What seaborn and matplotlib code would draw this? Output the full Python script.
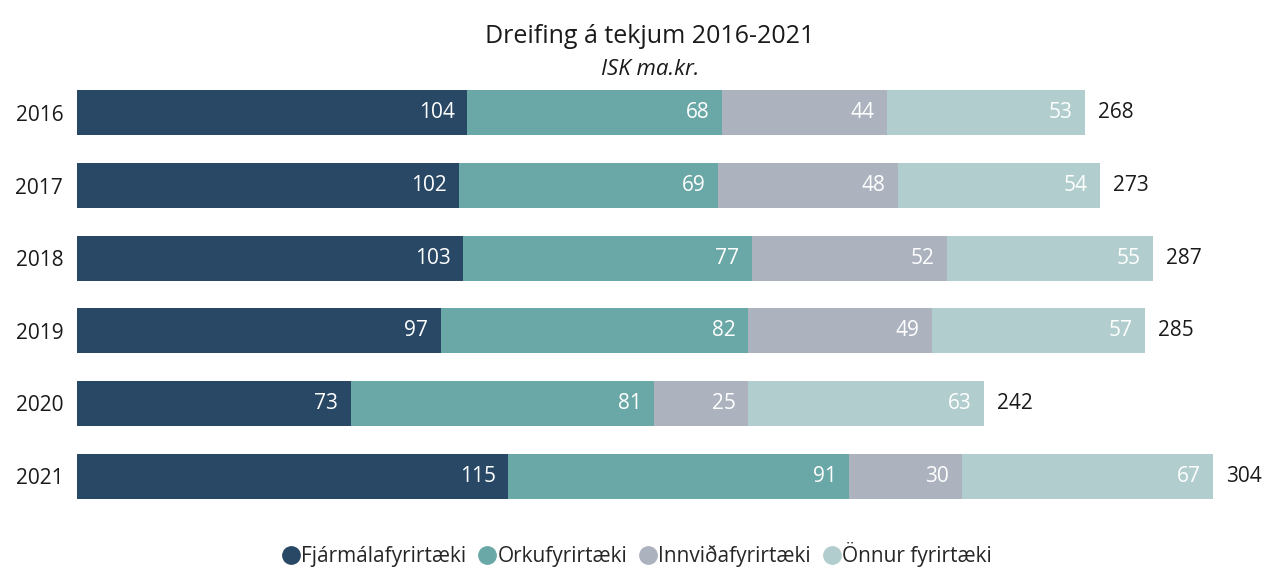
import numpy as np
import pandas as pd
import matplotlib
matplotlib.use("Agg")
import matplotlib.pyplot as plt
from matplotlib.lines import Line2D
import seaborn as sns

years = ["2016", "2017", "2018", "2019", "2020", "2021"]
categories = ["Fjármálafyrirtæki", "Orkufyrirtæki", "Innviðafyrirtæki", "Önnur fyrirtæki"]
fjarmala = [104, 102, 103, 97, 73, 115]
orku = [68, 69, 77, 82, 81, 91]
innvida = [44, 48, 52, 49, 25, 30]
onnur = [53, 54, 55, 57, 63, 67]
totals = [268, 273, 287, 285, 242, 304]

colors = ["#284866", "#6aa8a7", "#acb3bf", "#b1cdcd"]

sns.set_theme(style="white")
plt.rcParams["font.family"] = ["Open Sans", "DejaVu Sans"]

df = pd.DataFrame({
    "year": years,
    categories[0]: fjarmala,
    categories[1]: orku,
    categories[2]: innvida,
    categories[3]: onnur,
})
cum = df[categories].cumsum(axis=1)

fig = plt.figure(figsize=(12.67, 5.67), dpi=100)
ax = fig.add_axes([0.0608, 0.0963, 0.926, 0.7687])

# draw cumulative bars from the outermost segment inwards so they stack
for i in range(len(categories) - 1, -1, -1):
    sns.barplot(x=cum[categories[i]], y=df["year"], color=colors[i],
                orient="h", width=0.62, linewidth=0, saturation=1, ax=ax)

fs = 15
for r in range(len(years)):
    for i, cat in enumerate(categories):
        right = cum.loc[r, cat]
        ax.text(right - 3.3, r, str(df.loc[r, cat]), ha="right", va="center",
                color="white", fontsize=fs)
    ax.text(cum.loc[r, categories[-1]] + 3.5, r, str(totals[r]), ha="left",
            va="center", color="#1a1a1a", fontsize=fs)

ax.set_xlim(0, 313)
ax.set_ylim(5.5, -0.5)
ax.set_xlabel("")
ax.set_ylabel("")
ax.set_xticks([])
ax.tick_params(axis="y", length=0, pad=10, labelsize=fs, labelcolor="#1a1a1a")
sns.despine(ax=ax, left=True, bottom=True)

fig.text(0.513, 0.935, "Dreifing á tekjum 2016-2021", ha="center", va="center",
         fontsize=18, color="#1a1a1a")
fig.text(0.513, 0.877, "ISK ma.kr.", ha="center", va="center",
         fontsize=16, style="italic", color="#1a1a1a")

handles = [Line2D([0], [0], marker="o", linestyle="", markersize=12.5,
                  markerfacecolor=c, markeredgecolor=c) for c in colors]
fig.legend(handles, categories, loc="center", bbox_to_anchor=(0.502, 0.022),
           ncol=4, frameon=False, fontsize=fs, handletextpad=0.0,
           columnspacing=0.5, handlelength=1.0)

fig.savefig("out.png", dpi=100)
